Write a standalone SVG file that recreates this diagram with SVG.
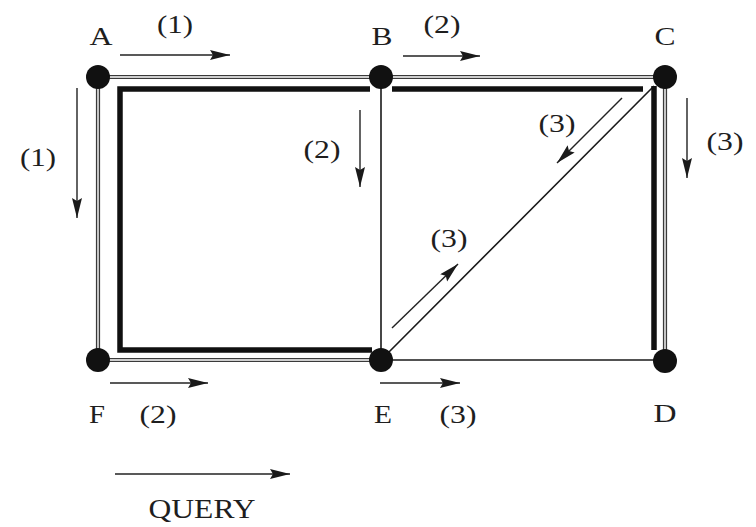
<svg xmlns="http://www.w3.org/2000/svg" width="756" height="527" viewBox="0 0 756 527">
<defs>
<marker id="ah" markerUnits="userSpaceOnUse" markerWidth="21" markerHeight="11" refX="20" refY="5" orient="auto">
<path d="M0,0 L20,5 L0,10 L3,5 z" fill="#1a1a1a"/>
</marker>
<style>
.dbl{fill:none;stroke:#3a3a3a;stroke-width:4.2}
.dblin{fill:none;stroke:#fff;stroke-width:1.4}
.thin{fill:none;stroke:#1a1a1a;stroke-width:1.6}
.thick{fill:none;stroke:#111;stroke-width:5.5;stroke-linejoin:miter;stroke-linecap:butt}
.arr{fill:none;stroke:#222;stroke-width:1.4;marker-end:url(#ah)}
.node{fill:#111}
text{font-family:"Liberation Serif","Times New Roman",serif;font-size:26px;fill:#1e1e1e;text-anchor:middle}
</style>
</defs>
<rect width="756" height="527" fill="#fff"/>
<g id="connectors">
<path class="dbl" d="M98,77 H665 M98,77 V360 H381 M665,77 V360"/>
<path class="dblin" d="M98,77 H665 M98,77 V360 H381 M665,77 V360"/>
<path class="thin" d="M381,77 V360 H665 M654,86 L381,360"/>
<path class="thick" d="M370,89 H120 V350 H372"/>
<path class="thick" d="M392,89 H643"/>
<path class="thick" d="M654,86 V350"/>
</g>
<g id="flow-arrows">
<path class="arr" d="M120,55 H230"/>
<path class="arr" d="M77,88 V218"/>
<path class="arr" d="M403,56 H480"/>
<path class="arr" d="M360,110 V187"/>
<path class="arr" d="M622,98 L557,163"/>
<path class="arr" d="M687,98 V178"/>
<path class="arr" d="M392,328 L458,264"/>
<path class="arr" d="M110,383 H208"/>
<path class="arr" d="M380,383 H460"/>
<path class="arr" d="M115,474 H290"/>
</g>
<g id="flow-labels">
<text x="175" y="33" textLength="36" lengthAdjust="spacingAndGlyphs">(1)</text>
<text x="38" y="166" textLength="36" lengthAdjust="spacingAndGlyphs">(1)</text>
<text x="442" y="33" textLength="37" lengthAdjust="spacingAndGlyphs">(2)</text>
<text x="322" y="158" textLength="37" lengthAdjust="spacingAndGlyphs">(2)</text>
<text x="557" y="132" textLength="37" lengthAdjust="spacingAndGlyphs">(3)</text>
<text x="725" y="150" textLength="37" lengthAdjust="spacingAndGlyphs">(3)</text>
<text x="449" y="247" textLength="37" lengthAdjust="spacingAndGlyphs">(3)</text>
<text x="158" y="423" textLength="37" lengthAdjust="spacingAndGlyphs">(2)</text>
<text x="458" y="423" textLength="37" lengthAdjust="spacingAndGlyphs">(3)</text>
<text x="202" y="518" font-size="28" style="font-size:28px" textLength="107" lengthAdjust="spacingAndGlyphs">QUERY</text>
</g>
<g id="node-A"><circle class="node" cx="98" cy="77" r="12"/><text x="101" y="45" textLength="23" lengthAdjust="spacingAndGlyphs">A</text></g>
<g id="node-B"><circle class="node" cx="381" cy="77" r="12"/><text x="382" y="45" textLength="21" lengthAdjust="spacingAndGlyphs">B</text></g>
<g id="node-C"><circle class="node" cx="665" cy="77" r="12"/><text x="665" y="45" textLength="21" lengthAdjust="spacingAndGlyphs">C</text></g>
<g id="node-F"><circle class="node" cx="98" cy="360" r="12"/><text x="97" y="423" textLength="16" lengthAdjust="spacingAndGlyphs">F</text></g>
<g id="node-E"><circle class="node" cx="381" cy="360" r="12"/><text x="383" y="423" textLength="18" lengthAdjust="spacingAndGlyphs">E</text></g>
<g id="node-D"><circle class="node" cx="665" cy="361" r="12"/><text x="665" y="422" textLength="23" lengthAdjust="spacingAndGlyphs">D</text></g>
</svg>
